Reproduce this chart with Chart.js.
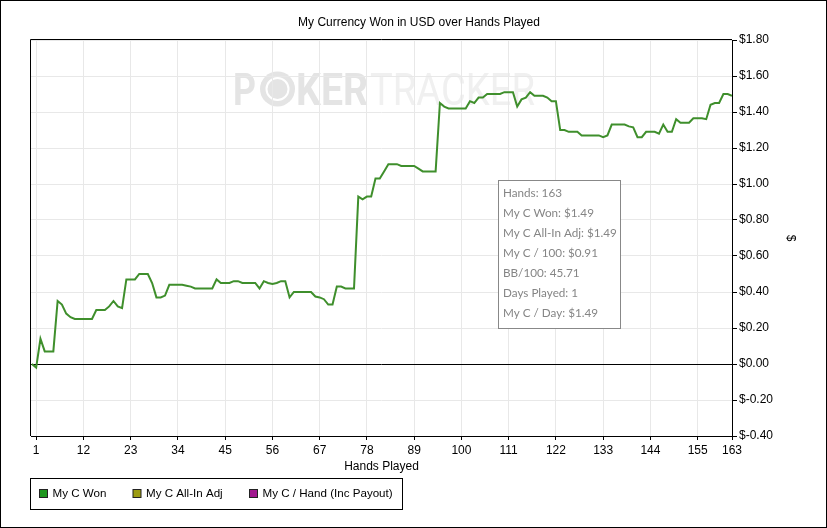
<!DOCTYPE html>
<html>
<head>
<meta charset="utf-8">
<title>My Currency Won in USD over Hands Played</title>
<script src="https://cdn.jsdelivr.net/npm/chart.js@4.4.1/dist/chart.umd.min.js"></script>
<style>
  html, body { margin: 0; padding: 0; background: #fff; }
  #wrap { width: 827px; height: 528px; }
</style>
</head>
<body>
<div id="wrap"><canvas id="won-chart" width="827" height="528"></canvas></div>
<script>
const chartTitle = "My Currency Won in USD over Hands Played";
const xTitle = "Hands Played";
const yTitle = "$";
const handTicks = [1, 12, 23, 34, 45, 56, 67, 78, 89, 100, 111, 122, 133, 144, 155, 163];
const seriesNames = ["My C Won", "My C All-In Adj", "My C / Hand (Inc Payout)"];
const seriesColors = ["#1e961e", "#9c9c12", "#a0188e"];

// running total in $ after each hand, hand 0 .. 163
const myCWon = [
  0, -0.02, 0.14, 0.07, 0.07, 0.07, 0.35, 0.33, 0.28, 0.26,
  0.25, 0.25, 0.25, 0.25, 0.25, 0.30, 0.30, 0.30, 0.32, 0.35,
  0.32, 0.31, 0.47, 0.47, 0.47, 0.50, 0.50, 0.50, 0.45, 0.37,
  0.37, 0.38, 0.44, 0.44, 0.44, 0.44, 0.435, 0.43, 0.42, 0.42,
  0.42, 0.42, 0.42, 0.47, 0.45, 0.45, 0.45, 0.46, 0.46, 0.45,
  0.45, 0.45, 0.45, 0.42, 0.46, 0.45, 0.445, 0.45, 0.46, 0.46,
  0.37, 0.40, 0.40, 0.40, 0.40, 0.40, 0.375, 0.37, 0.36, 0.33,
  0.33, 0.43, 0.43, 0.42, 0.42, 0.42, 0.93, 0.915, 0.93, 0.93,
  1.03, 1.03, 1.07, 1.11, 1.11, 1.11, 1.10, 1.10, 1.10, 1.10,
  1.085, 1.07, 1.07, 1.07, 1.07, 1.45, 1.43, 1.42, 1.42, 1.42,
  1.42, 1.42, 1.46, 1.45, 1.48, 1.48, 1.50, 1.50, 1.50, 1.50,
  1.51, 1.51, 1.51, 1.43, 1.47, 1.48, 1.51, 1.49, 1.49, 1.49,
  1.48, 1.46, 1.46, 1.30, 1.30, 1.29, 1.29, 1.29, 1.27, 1.27,
  1.27, 1.27, 1.27, 1.26, 1.27, 1.33, 1.33, 1.33, 1.33, 1.32,
  1.315, 1.26, 1.26, 1.29, 1.29, 1.29, 1.28, 1.33, 1.29, 1.29,
  1.36, 1.34, 1.34, 1.34, 1.365, 1.365, 1.365, 1.36, 1.44, 1.45,
  1.45, 1.50, 1.50, 1.49
];

const infoLines = [
  "Hands: 163",
  "My C Won: $1.49",
  "My C All-In Adj: $1.49",
  "My C / 100: $0.91",
  "BB/100: 45.71",
  "Days Played: 1",
  "My C / Day: $1.49"
];

Chart.defaults.font.family = "'Liberation Sans', Arial, sans-serif";
Chart.defaults.font.size = 12;
Chart.defaults.color = "#000";

function fitText(ctx, text, x, y, w) {
  const m = ctx.measureText(text).width;
  ctx.save();
  ctx.translate(x, y);
  ctx.scale(w / m, 1);
  ctx.fillText(text, 0, 0);
  ctx.restore();
}

// watermark behind the grid
const watermark = {
  id: "watermark",
  beforeDraw(chart) {
    const ctx = chart.ctx;
    ctx.save();
    ctx.textBaseline = "alphabetic";
    ctx.font = "bold 45px Roboto";
    ctx.fillStyle = "#e4e4e4";
    fitText(ctx, "P", 233, 105, 23);
    fitText(ctx, "KER", 296, 105, 72);
    // chip in place of the O
    ctx.beginPath();
    ctx.arc(277.5, 89, 17.5, 0, Math.PI * 2);
    ctx.fill();
    ctx.strokeStyle = "#fff";
    ctx.lineWidth = 2;
    ctx.beginPath();
    ctx.arc(277.5, 89, 11, 0, Math.PI * 2);
    ctx.stroke();
    ctx.font = "45px Roboto";
    ctx.fillStyle = "#f0f0f0";
    fitText(ctx, "TRACKER", 370, 105, 165);
    ctx.restore();
  }
};

const legendX = [39.5, 133, 249.5];

const frame = {
  id: "frame",
  afterDraw(chart) {
    const ctx = chart.ctx;
    const a = chart.chartArea;
    ctx.save();
    ctx.strokeStyle = "#000";
    ctx.lineWidth = 1;
    // plot area left and top edges
    ctx.beginPath();
    ctx.moveTo(Math.round(a.left) - 0.5, Math.round(a.bottom));
    ctx.lineTo(Math.round(a.left) - 0.5, Math.round(a.top) - 0.5);
    ctx.lineTo(Math.round(a.right), Math.round(a.top) - 0.5);
    ctx.stroke();
    // outer frame
    ctx.strokeRect(0.5, 0.5, chart.width - 1, chart.height - 1);

    // legend box
    ctx.strokeRect(30.5, 478.5, 372, 31);
    ctx.font = "11.6px 'Liberation Sans', Arial, sans-serif";
    ctx.textBaseline = "middle";
    ctx.textAlign = "left";
    chart.data.datasets.forEach((ds, i) => {
      const x = legendX[i];
      ctx.fillStyle = ds.legendColor;
      ctx.fillRect(x, 489.5, 8, 8);
      ctx.strokeStyle = "#222";
      ctx.strokeRect(x, 489.5, 8, 8);
      ctx.fillStyle = "#000";
      ctx.fillText(ds.label, x + 13, 494);
    });

    // hover info box
    ctx.fillStyle = "#fff";
    ctx.fillRect(498.5, 180.5, 122, 148);
    ctx.strokeStyle = "#888";
    ctx.strokeRect(498.5, 180.5, 122, 148);
    ctx.font = "11.7px Lato, 'Open Sans', sans-serif";
    ctx.fillStyle = "#858585";
    infoLines.forEach((t, i) => ctx.fillText(t, 503, 193 + i * 20));
    ctx.restore();
  }
};

new Chart(document.getElementById("won-chart"), {
  type: "line",
  data: {
    datasets: [
      {
        label: seriesNames[0],
        data: myCWon.map((v, i) => ({x: i, y: v})),
        borderColor: "#3f8f2c",
        legendColor: seriesColors[0],
        borderWidth: 2,
        pointRadius: 0,
        tension: 0
      },
      { label: seriesNames[1], data: [], borderColor: seriesColors[1], legendColor: seriesColors[1], pointRadius: 0 },
      { label: seriesNames[2], data: [], borderColor: seriesColors[2], legendColor: seriesColors[2], pointRadius: 0 }
    ]
  },
  options: {
    responsive: false,
    animation: false,
    layout: { padding: { left: 31, right: 20, top: 0, bottom: 48 } },
    plugins: {
      legend: { display: false },
      tooltip: { enabled: false },
      title: {
        display: true,
        text: chartTitle,
        color: "#000",
        font: { size: 12, weight: "normal" },
        padding: { top: 15, bottom: 10.6 }
      }
    },
    scales: {
      x: {
        type: "linear",
        min: -0.2,
        max: 163,
        afterBuildTicks: s => { s.ticks = handTicks.map(v => ({ value: v })); },
        afterFit: s => { s.height = 44; },
        ticks: { autoSkip: false, maxRotation: 0, padding: 3, color: "#000" },
        grid: { color: "#e8e8e8", tickColor: "#000", tickLength: 4 },
        border: { color: "#000" },
        title: { display: true, text: xTitle, color: "#000", padding: { top: 0, bottom: 5.8 } }
      },
      y: {
        position: "right",
        min: -0.4,
        max: 1.8,
        afterFit: s => { s.width = 75; },
        ticks: {
          stepSize: 0.2,
          padding: 2,
          color: "#000",
          callback: v => "$" + (Math.abs(v) < 1e-9 ? 0 : v).toFixed(2)
        },
        grid: {
          color: c => (c.tick && Math.abs(c.tick.value) < 1e-9) ? "#000" : "#e8e8e8",
          tickColor: "#000",
          tickLength: 5
        },
        border: { color: "#000" },
        title: { display: true, text: yTitle, color: "#000", padding: { top: 9.8, bottom: 0 } }
      }
    }
  },
  plugins: [watermark, frame]
});
</script>
</body>
</html>
